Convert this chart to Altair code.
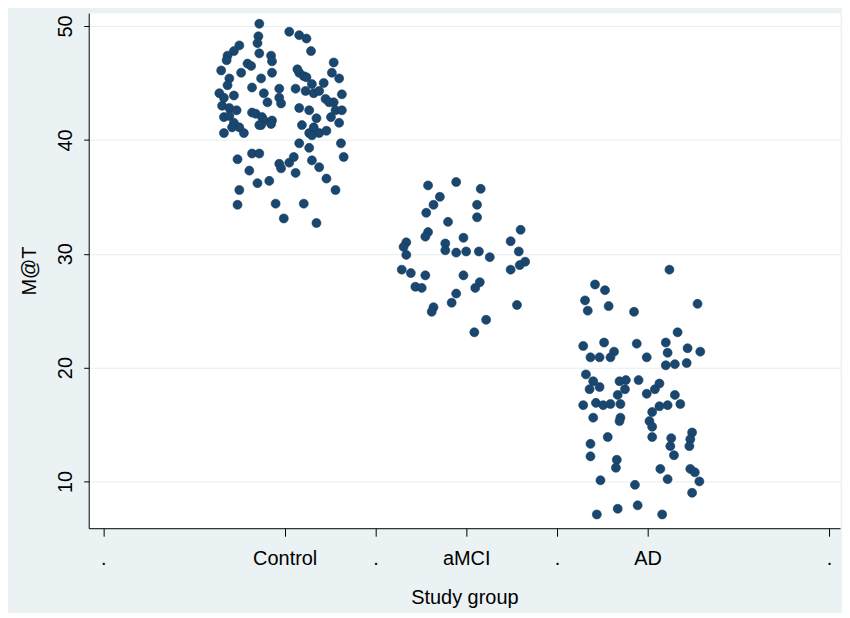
import altair as alt
import pandas as pd

# ---- data ----
group_names = ["Control", "aMCI", "AD"]
group_pos = [2, 4, 6]

ctrl_jitter = [-0.28, -0.29, -0.30, 0.05, 0.16, 0.24, 0.29, -0.50, -0.56, -0.63, -0.28, -0.15, -0.64, -0.41,
               -0.37, -0.14, -0.48, -0.14, -0.70, -0.61, -0.63, -0.26, -0.36, -0.06, -0.06, -0.23, -0.19, 0.12,
               0.16, 0.14, 0.21, 0.24, 0.30, 0.23, 0.32, 0.38, 0.43, 0.54, 0.52, 0.60, 0.63, 0.45, 0.54, -0.72,
               -0.67, -0.56, -0.69, -0.61, -0.53, -0.67, -0.61, -0.56, -0.50, -0.36, -0.32, -0.25, -0.23, -0.14,
               -0.26, -0.04, 0.16, 0.27, 0.35, 0.49, 0.56, 0.63, 0.60, 0.51, 0.19, 0.27, 0.38, 0.46, -0.67, -0.58,
               -0.45, -0.28, -0.15, 0.32, 0.30, 0.16, 0.27, 0.62, 0.65, -0.52, -0.36, -0.28, -0.06, 0.05, 0.10,
               -0.04, 0.12, 0.30, 0.38, -0.39, -0.30, -0.17, 0.46, 0.56, -0.50, -0.52, -0.10, 0.21, -0.01, 0.35]
ctrl_score = [50.2, 49.1, 48.5, 49.5, 49.2, 48.9, 47.8, 48.3, 47.8, 47.4, 47.6, 47.4, 47.0, 46.7,
              46.5, 46.9, 45.9, 45.9, 46.1, 45.4, 44.8, 45.4, 44.6, 44.5, 43.7, 44.1, 43.3, 44.5,
              45.9, 46.2, 45.6, 45.5, 44.9, 44.3, 44.1, 44.3, 45.0, 46.8, 45.9, 45.4, 44.0, 43.6, 43.3, 44.1,
              43.7, 43.9, 43.0, 42.8, 42.6, 42.0, 42.1, 41.5, 41.1, 42.4, 42.3, 42.0, 41.7, 41.7,
              41.3, 43.2, 42.8, 42.6, 41.9, 43.3, 42.6, 42.6, 41.5, 42.0, 41.3, 40.6, 40.6, 40.8, 40.6, 41.1,
              40.6, 41.3, 41.4, 41.1, 40.4, 39.7, 39.3, 39.7, 38.5, 38.3, 38.8, 38.8, 37.9, 38.0, 38.5,
              37.5, 37.1, 38.2, 37.6, 37.3, 36.2, 36.4, 36.6, 35.6, 35.6, 34.3, 34.4, 34.4, 33.1, 32.7]

amci_jitter = [-0.42, -0.11, 0.16, -0.29, -0.36, -0.44, 0.12, 0.12, -0.20, -0.42, -0.45, -0.03, -0.66, -0.69,
               -0.66, -0.23, -0.23, -0.11, 0.00, 0.14, 0.26, 0.49, 0.60, 0.58, 0.65, 0.59, 0.49, -0.71, -0.61,
               -0.45, -0.03, 0.15, 0.10, -0.56, -0.49, -0.11, -0.16, -0.36, -0.38, 0.56, 0.22, 0.09]
amci_score = [36.0, 36.3, 35.7, 35.0, 34.3, 33.6, 34.3, 33.2, 32.8, 31.9, 31.5, 31.4, 31.0, 30.6,
              29.9, 30.9, 30.3, 30.1, 30.2, 30.2, 29.7, 31.1, 32.1, 30.2, 29.3, 29.0, 28.6, 28.6, 28.3,
              28.1, 28.1, 27.5, 27.0, 27.1, 27.0, 26.5, 25.7, 25.3, 24.9, 25.5, 24.2, 23.1]

ad_jitter = [0.24, -0.58, -0.47, -0.69, -0.66, -0.43, -0.15, 0.55, 0.33, -0.71, -0.48, -0.12, 0.20, -0.63,
             -0.53, -0.37, -0.41, -0.01, 0.22, 0.44, 0.58, 0.20, 0.30, 0.43, -0.68, -0.60, -0.64, -0.53,
             -0.31, -0.24, -0.25, -0.33, -0.10, 0.13, 0.08, -0.01, 0.30, -0.71, -0.57, -0.49, -0.41, -0.30,
             -0.30, -0.31, -0.60, 0.13, 0.22, 0.36, 0.05, 0.02, 0.05, -0.44, 0.05, -0.63, -0.63, 0.26, 0.25,
             0.29, 0.49, 0.47, 0.46, -0.34, -0.35, 0.14, 0.47, 0.52, 0.22, -0.52, -0.14, 0.57, 0.49, -0.56,
             -0.33, -0.11, 0.16]
ad_score = [28.6, 27.3, 26.8, 25.9, 25.0, 25.4, 24.9, 25.6, 23.1, 21.9, 22.2, 22.1, 22.2, 20.9,
            20.9, 21.4, 20.9, 20.9, 21.3, 21.7, 21.4, 20.2, 20.3, 20.4, 19.4, 18.8, 18.1, 18.3,
            18.8, 18.9, 18.1, 17.6, 18.9, 18.6, 18.1, 17.7, 17.6, 16.7, 16.9, 16.7, 16.8, 16.8,
            15.6, 15.3, 15.6, 16.6, 16.7, 16.8, 16.1, 15.3, 14.8, 13.9, 13.9, 13.3, 12.2, 13.8, 13.1,
            12.3, 14.3, 13.7, 13.1, 11.9, 11.2, 11.1, 11.1, 10.8, 10.2, 10.1, 9.7, 10.0, 9.0, 7.1,
            7.6, 7.9, 7.1]

tick_values = [0, 2, 3, 4, 5, 6, 8]
tick_labels = [".", "Control", ".", "aMCI", ".", "AD", "."]
y_ticks = [10, 20, 30, 40, 50]

rows = []
for name, pos, jit, sc in zip(group_names, group_pos,
                              [ctrl_jitter, amci_jitter, ad_jitter],
                              [ctrl_score, amci_score, ad_score]):
    for j, s in zip(jit, sc):
        rows.append({"group": name, "pos": pos, "jitter": j, "score": s})
df = pd.DataFrame(rows)

label_expr = "'.'"
for v, lab in reversed(list(zip(tick_values, tick_labels))):
    label_expr = f"datum.value == {v} ? '{lab}' : ({label_expr})"

FONT = "Liberation Sans"

chart = alt.Chart(df).transform_calculate(
    xpos="datum.pos + datum.jitter"
).mark_circle(
    color="#1a476f", opacity=1, size=82, stroke="#163c5e", strokeWidth=0.6
).encode(
    x=alt.X("xpos:Q",
            scale=alt.Scale(domain=[-0.16, 8.12], nice=False, zero=False),
            axis=alt.Axis(values=tick_values, labelExpr=label_expr, title="Study group",
                          grid=False, tickSize=8, labelPadding=12, titlePadding=20,
                          labelFontSize=20, titleFontSize=20, labelFont=FONT, titleFont=FONT,
                          titleFontWeight="normal", labelColor="#000", titleColor="#000",
                          domainColor="#000", tickColor="#000", labelFlush=False,
                          labelOverlap=False)),
    y=alt.Y("score:Q",
            scale=alt.Scale(domain=[5.89, 51.14], nice=False, zero=False),
            axis=alt.Axis(values=y_ticks, title="M@T", grid=True, gridColor="#e6eef0",
                          tickSize=5, labelAngle=270, labelAlign="center", labelBaseline="bottom",
                          labelPadding=8, titlePadding=16,
                          labelFontSize=20, titleFontSize=20, labelFont=FONT, titleFont=FONT,
                          titleFontWeight="normal", labelColor="#000", titleColor="#000",
                          domainColor="#000", tickColor="#000", labelFlush=False)),
).properties(
    width=754, height=517,
    autosize=alt.AutoSizeParams(type="none"),
    padding={"left": 81, "top": 4, "right": 2, "bottom": 84},
    background="#eaf2f3",
).configure_view(
    fill="white", stroke="transparent"
)

chart.save("out.html", embed_options={"renderer": "svg", "actions": False})
